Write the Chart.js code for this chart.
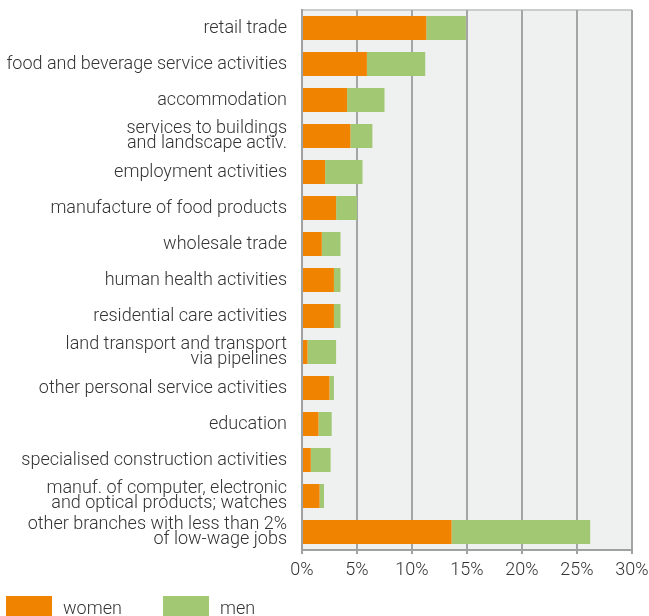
<!DOCTYPE html>
<html lang="en">
<head>
  <meta charset="UTF-8" />
  <title>Low-wage jobs by branch</title>
  <script src="https://cdn.jsdelivr.net/npm/chart.js"></script>
  <style>
    html, body {
      margin: 0;
      padding: 0;
      background: #fff;
      font-family: Roboto, sans-serif;
    }

    #wrap {
      position: relative;
      width: 649px;
      height: 616px;
      overflow: hidden;
    }

    #legend {
      position: absolute;
      left: 6px;
      top: 596px;
      display: flex;
      align-items: flex-start;
      font-size: 18px;
      font-weight: 300;
      color: #333;
    }

    .item {
      display: flex;
      align-items: flex-start;
    }

    .box {
      width: 46px;
      height: 24px;
      margin-right: 11px;
    }

    .item span {
      line-height: 20px;
      padding-top: 2px;
    }
  </style>
</head>
<body>
  <div id="wrap">
    <canvas id="myChart" width="649" height="616"></canvas>
    <div id="legend"></div>
  </div>

  <script>
    const categories = [
      'retail trade',
      'food and beverage service activities',
      'accommodation',
      ['services to buildings', 'and landscape activ.'],
      'employment activities',
      'manufacture of food products',
      'wholesale trade',
      'human health activities',
      'residential care activities',
      ['land transport and transport', 'via pipelines'],
      'other personal service activities',
      'education',
      'specialised construction activities',
      ['manuf. of computer, electronic', 'and optical products; watches'],
      ['other branches with less than 2%', 'of low-wage jobs']
    ];

    const women = [11.3, 5.9, 4.1, 4.4, 2.1, 3.1, 1.8, 2.9, 2.9, 0.5, 2.5, 1.5, 0.8, 1.6, 13.6];
    const men = [3.6, 5.3, 3.4, 2.0, 3.4, 1.9, 1.7, 0.6, 0.6, 2.6, 0.4, 1.2, 1.8, 0.4, 12.6];

    const xTicks = [0, 5, 10, 15, 20, 25, 30];

    const seriesNames = ['women', 'men'];
    const colors = ['#f08300', '#a3c873'];

    // background of the plot area + light top border
    const plotBg = {
      id: 'plotBg',
      beforeDraw(chart) {
        const { ctx, chartArea: a } = chart;
        ctx.save();
        ctx.fillStyle = '#eff1f0';
        ctx.fillRect(a.left, a.top, a.right - a.left, a.bottom - a.top);
        ctx.strokeStyle = '#cccccc';
        ctx.lineWidth = 2;
        ctx.beginPath();
        ctx.moveTo(a.left, a.top);
        ctx.lineTo(a.right, a.top);
        ctx.stroke();
        ctx.restore();
      }
    };

    new Chart(document.getElementById('myChart').getContext('2d'), {
      type: 'bar',
      data: {
        labels: categories,
        datasets: [
          { label: seriesNames[0], data: women, backgroundColor: colors[0] },
          { label: seriesNames[1], data: men, backgroundColor: colors[1] }
        ]
      },
      options: {
        indexAxis: 'y',
        responsive: false,
        animation: false,
        categoryPercentage: 0.667,
        barPercentage: 1,
        layout: { padding: { top: 10, right: 17, bottom: 0, left: 0 } },
        plugins: {
          legend: { display: false },
          tooltip: { enabled: false }
        },
        scales: {
          x: {
            stacked: true,
            min: 0,
            max: 30,
            afterBuildTicks: scale => { scale.ticks = xTicks.map(v => ({ value: v })); },
            afterFit: scale => {
              scale.height = 66;
              scale.paddingLeft = 0;
              scale.paddingRight = 0;
            },
            border: { color: '#a0a0a0', width: 2 },
            grid: {
              color: '#a5a5a5',
              lineWidth: 2,
              tickLength: 4,
              tickColor: '#a0a0a0'
            },
            ticks: {
              callback: v => v + '%',
              color: '#333',
              padding: 6,
              font: { family: 'Roboto', size: 18, weight: 300 }
            }
          },
          y: {
            stacked: true,
            afterFit: scale => {
              scale.width = 302;
              scale.paddingTop = 0;
              scale.paddingBottom = 0;
            },
            border: { color: '#a0a0a0', width: 2 },
            grid: { display: false },
            ticks: {
              color: '#333',
              padding: 7,
              autoSkip: false,
              font: { family: 'Roboto', size: 18, weight: 300, lineHeight: 0.8 }
            }
          }
        }
      },
      plugins: [plotBg]
    });

    const legend = document.getElementById('legend');
    seriesNames.forEach((name, i) => {
      const item = document.createElement('div');
      item.className = 'item';
      item.style.width = i === 0 ? '157px' : 'auto';
      item.innerHTML = `<div class="box" style="background:${colors[i]}"></div><span>${name}</span>`;
      legend.appendChild(item);
    });
  </script>
</body>
</html>
